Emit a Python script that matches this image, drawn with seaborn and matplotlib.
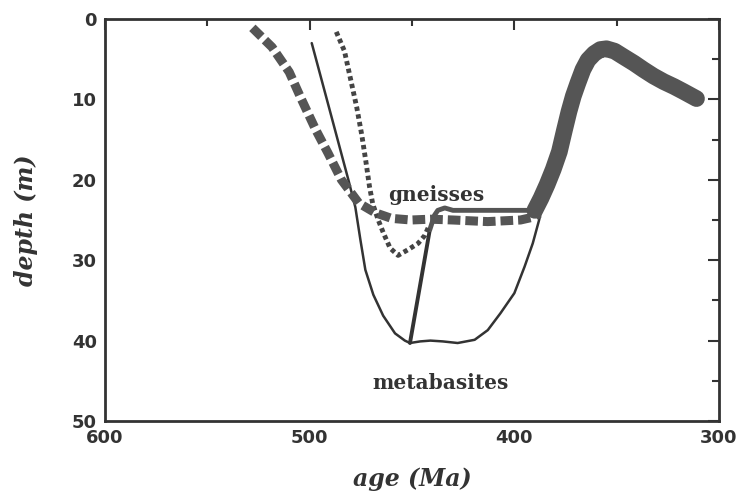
import matplotlib
matplotlib.use("Agg")
import matplotlib.pyplot as plt
import seaborn as sns
import pandas as pd
from matplotlib.ticker import MultipleLocator

# ---- data ----
gneiss_dash_age = [528, 518.4, 510, 504, 497, 491, 484.5, 476, 468, 460, 450.5, 441, 430, 413, 397, 390, 388]
gneiss_dash_depth = [1.1, 3.5, 6.6, 10.0, 13.8, 16.7, 20.0, 22.9, 24.1, 24.8, 25.0, 24.9, 25.0, 25.2, 25.0, 24.6, 24.2]

gneiss_dot_age = [487, 483, 480, 477, 474.5, 472.5, 470.8, 469.2, 466.5, 464, 460.7, 456.8, 452, 447, 443.7, 442]
gneiss_dot_depth = [1.6, 4.0, 7.5, 11.0, 14.5, 17.8, 20.8, 23.0, 25.0, 26.6, 28.5, 29.4, 28.7, 27.9, 26.9, 25.9]

gneiss_flat_age = [441.3, 439, 437.4, 434, 430, 420, 405, 390]
gneiss_flat_depth = [26.2, 24.4, 23.8, 23.5, 23.8, 23.8, 23.8, 23.8]

cooling_age = [390, 387, 384, 381, 378, 375.5, 373.3, 371.2, 369, 366.5, 364, 361, 358, 355, 351,
               346.6, 341.5, 336.9, 332, 327, 322, 317.5, 311]
cooling_depth = [23.8, 22.3, 20.6, 18.7, 16.5, 13.8, 11.5, 9.6, 8.0, 6.3, 5.1, 4.3, 3.8, 3.7, 4.0,
                 4.7, 5.5, 6.3, 7.1, 7.8, 8.4, 9.0, 9.9]

meta_age = [499, 489.3, 481.1, 477.7, 475.2, 472.8, 468.9, 464.1, 458.3, 453.5, 451, 446, 441,
            435, 427.7, 419.4, 413, 406.8, 400, 395, 391, 387.9, 387]
meta_depth = [3.0, 12.2, 20.0, 23.4, 27.5, 31.2, 34.3, 36.9, 39.1, 40.0, 40.3, 40.1, 40.0,
              40.1, 40.3, 39.9, 38.7, 36.6, 34.1, 30.8, 27.9, 25.0, 24.0]

meta_link_age = [451, 441.3]
meta_link_depth = [40.3, 26.2]

labels = ["gneisses", "metabasites"]
label_age = [438, 436]
label_depth = [21.9, 45.3]

x_ticks = [600, 500, 400, 300]
y_ticks = [0, 10, 20, 30, 40, 50]

# ---- figure ----
sns.set_style("white")
plt.rcParams["font.family"] = ["DejaVu Serif"]
fig = plt.figure(figsize=(7.37, 4.92), dpi=100)
ax = fig.add_axes([0.1425, 0.1443, 0.8331, 0.8171])

def line(a, d, **kw):
    df = pd.DataFrame({"age": a, "depth": d})
    sns.lineplot(data=df, x="age", y="depth", sort=False, estimator=None, ax=ax, **kw)

dark = "#333333"
grey = "#555555"

line(meta_age, meta_depth, color=dark, lw=1.8, solid_joinstyle="round")
line(meta_link_age, meta_link_depth, color=dark, lw=2.8)
line(gneiss_flat_age, gneiss_flat_depth, color=grey, lw=3.5, solid_joinstyle="round")
line(gneiss_dot_age, gneiss_dot_depth, color="#444444", lw=3.5, linestyle=(0, (0.9, 0.7)))
line(gneiss_dash_age, gneiss_dash_depth, color=grey, lw=6.5, linestyle=(0, (1.4, 0.55)))
line(cooling_age, cooling_depth, color=grey, lw=12, solid_capstyle="round", solid_joinstyle="round")

for t, a, d in zip(labels, label_age, label_depth):
    ax.text(a, d, t, ha="center", va="center", fontsize=14.5, fontweight="bold", color="#333333")

ax.set_xlim(600, 300)
ax.set_ylim(50, 0)
ax.set_xticks(x_ticks)
ax.set_yticks(y_ticks)
ax.xaxis.set_minor_locator(MultipleLocator(50))
ax.yaxis.set_minor_locator(MultipleLocator(5))
ax.tick_params(which="both", direction="in", top=True, right=True, color="#333333", width=1.5)
ax.tick_params(which="major", length=8, labelsize=13, labelcolor="#333333")
ax.tick_params(which="minor", length=5)
ax.tick_params(axis="x", pad=6)
ax.tick_params(axis="y", pad=6)
for lab in ax.get_xticklabels() + ax.get_yticklabels():
    lab.set_fontweight("bold")
    lab.set_family("DejaVu Sans")
for s in ax.spines.values():
    s.set_linewidth(2.0)
    s.set_color("#333333")

ax.set_xlabel("age (Ma)", fontsize=17, fontweight="bold", style="italic", color="#333333", labelpad=14)
ax.set_ylabel("depth (m)", fontsize=17, fontweight="bold", style="italic", color="#333333", labelpad=24)

fig.savefig("out.png", dpi=100)
